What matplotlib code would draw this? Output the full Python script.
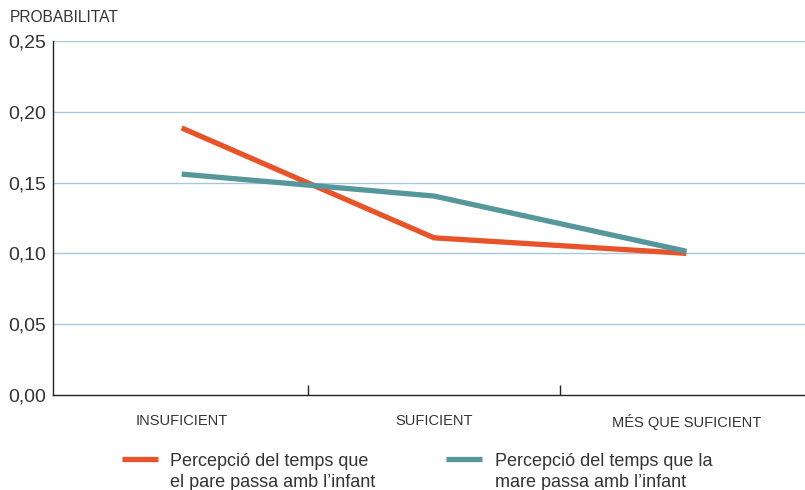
import matplotlib
matplotlib.use("Agg")
import matplotlib.pyplot as plt
from matplotlib.ticker import FuncFormatter, FixedLocator
from matplotlib.lines import Line2D

categories = ["INSUFICIENT", "SUFICIENT", "MÉS QUE SUFICIENT"]
pare = [0.1886, 0.1110, 0.1000]
mare = [0.1560, 0.1405, 0.1015]
labels = ["Percepció del temps que\nel pare passa amb l\u2019infant",
          "Percepció del temps que la\nmare passa amb l\u2019infant"]
yticks = [0.00, 0.05, 0.10, 0.15, 0.20, 0.25]

c_pare = "#E8532A"
c_mare = "#55979A"
c_grid = "#A9C8DE"
c_text = "#333333"

plt.rcParams['font.family'] = ['Liberation Sans', 'DejaVu Sans']

W, H = 805, 490
fig = plt.figure(figsize=(W/100, H/100), dpi=100)
ax = fig.add_axes([53/W, 1-395/H, 1-53/W, (395-41)/H])

x = list(range(len(categories)))
ax.plot(x, pare, color=c_pare, lw=3.8, solid_capstyle='butt', zorder=3)
ax.plot(x, mare, color=c_mare, lw=3.8, solid_capstyle='butt', zorder=3)

ax.set_xlim(-0.51, 2.47)
ax.set_ylim(0, 0.25)
ax.set_yticks(yticks)
ax.yaxis.set_major_formatter(FuncFormatter(lambda v, p: f"{v:.2f}".replace('.', ',')))
ax.tick_params(axis='y', length=0, pad=5, labelsize=14, labelcolor=c_text)
ax.set_xticks(x)
ax.set_xticklabels(categories)
ax.tick_params(axis='x', which='major', length=0, pad=14, labelsize=10.5, labelcolor=c_text)
ax.xaxis.set_minor_locator(FixedLocator([0.5, 1.5]))
ax.tick_params(axis='x', which='minor', direction='in', length=7, width=1, color='#222222')

for v in yticks[1:]:
    ax.axhline(v, color=c_grid, lw=1, zorder=1)

for s in ['top', 'right']:
    ax.spines[s].set_visible(False)
for s in ['left', 'bottom']:
    ax.spines[s].set_color('#222222')
    ax.spines[s].set_linewidth(1)

fig.text(10/W, 1-18/H, "PROBABILITAT", fontsize=11.2, color=c_text, va='center', ha='left')

# legend (drawn manually so the key aligns with the first text line)
for (x0, x1, tx), col, lab in zip([(122, 158, 170), (446, 482, 495)], [c_pare, c_mare], labels):
    fig.add_artist(Line2D([x0/W, x1/W], [1-459/H, 1-459/H], color=col, lw=3.8,
                          transform=fig.transFigure, solid_capstyle='butt'))
    fig.text(tx/W, 1-453/H, lab, fontsize=13, color=c_text, va='top', ha='left',
             linespacing=1.28)

fig.savefig("out.png", dpi=100)
